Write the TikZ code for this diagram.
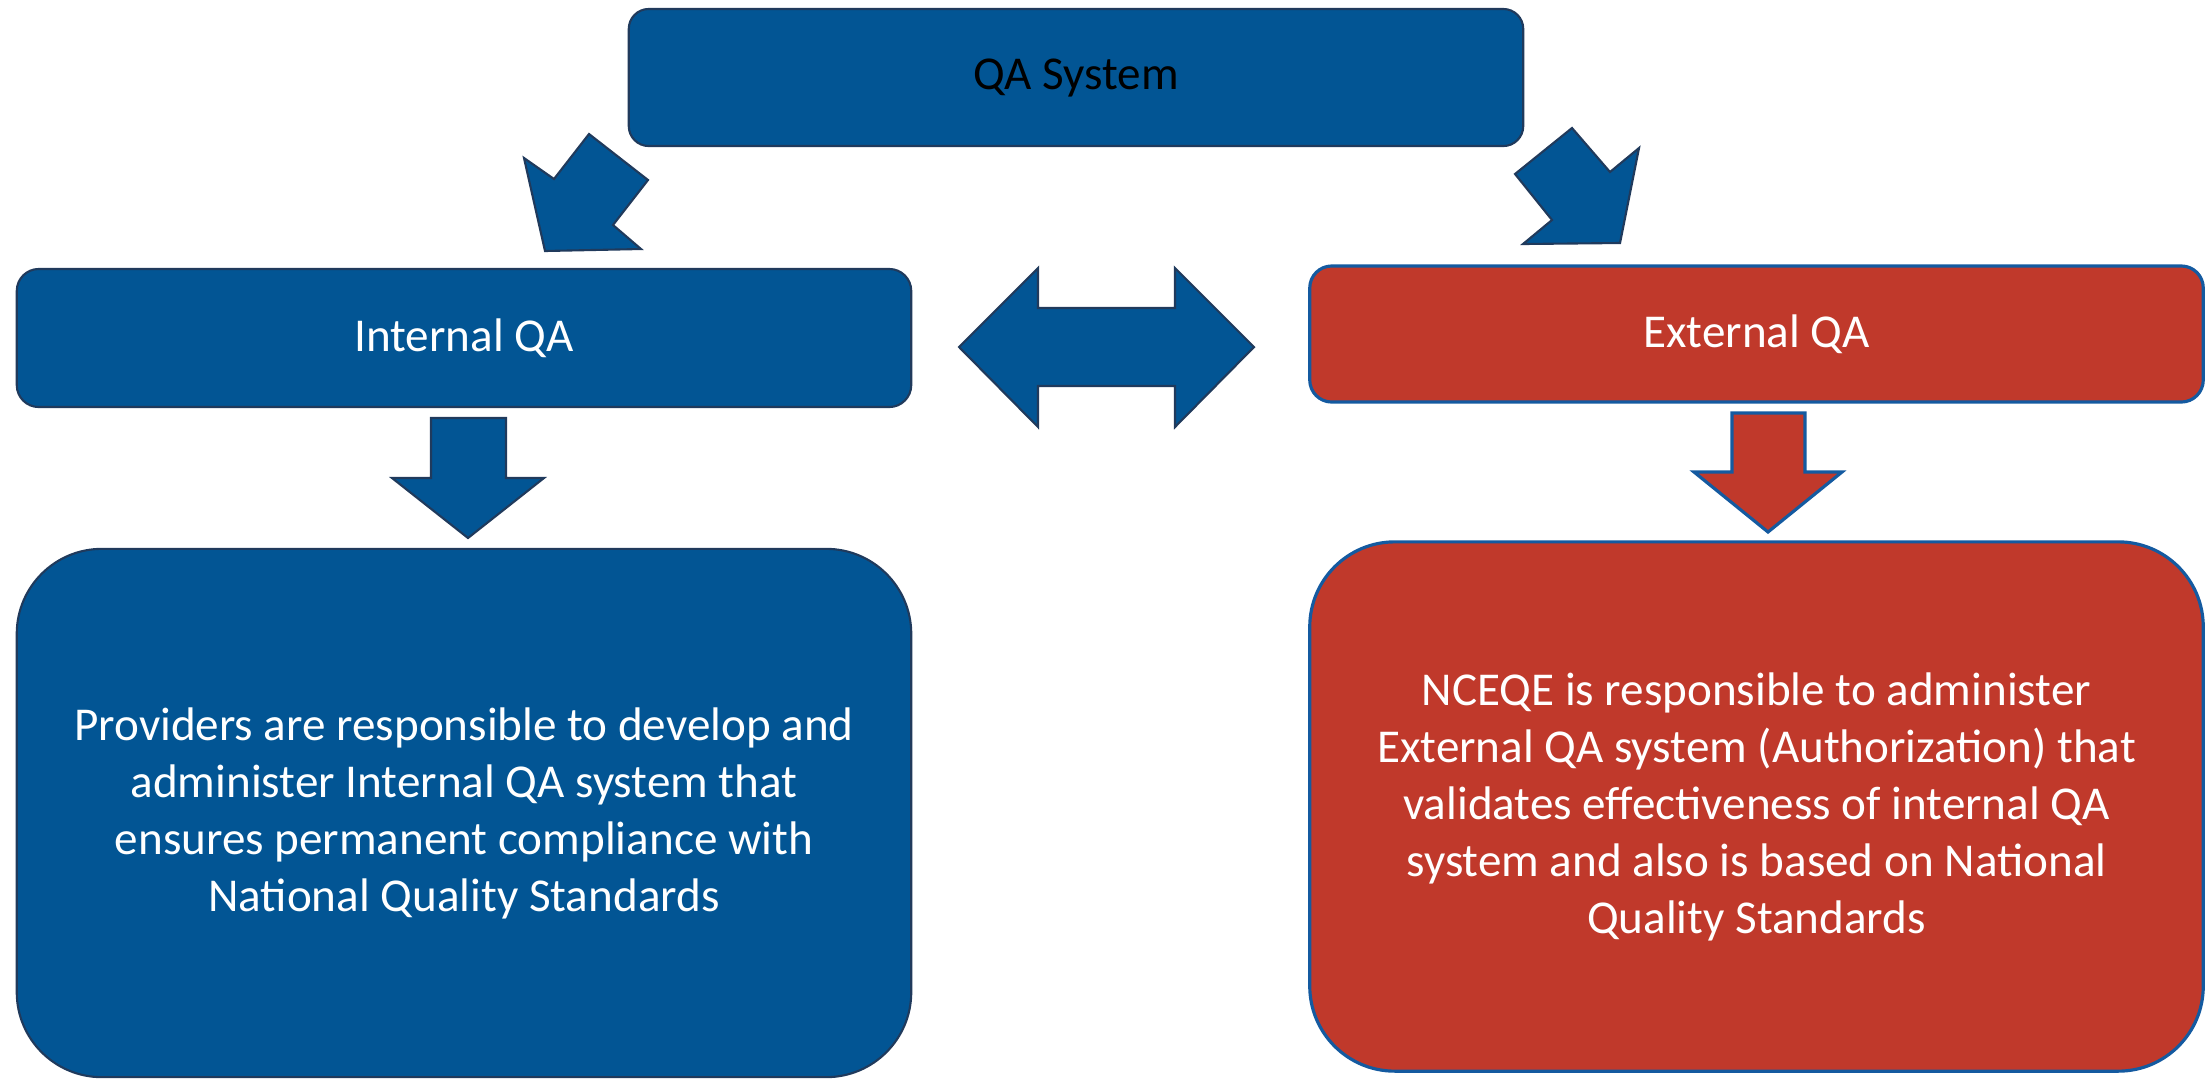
\documentclass[tikz,border=0pt]{standalone}
\usepackage{fontspec}
\setmainfont{Carlito}
\definecolor{qablue}{RGB}{2,85,148}
\definecolor{qared}{RGB}{192,57,43}
\definecolor{qanavy}{RGB}{32,58,92}
\definecolor{qaline}{RGB}{20,90,160}
\tikzset{
  qabox/.style={rectangle, inner sep=0pt, align=center, text=white, font=\fontsize{13.4}{16.2}\selectfont},
  bluebox/.style={qabox, fill=qablue, draw=qanavy, line width=0.6pt},
  redbox/.style={qabox, fill=qared, draw=qaline, line width=0.9pt},
  bluearrow/.style={fill=qablue, draw=qanavy, line width=0.6pt, line join=miter},
  redarrow/.style={fill=qared, draw=qaline, line width=0.9pt, line join=miter}
}
\begin{document}
\begin{tikzpicture}[x=0.01cm,y=-0.01cm]
\useasboundingbox (0,0) rectangle (2209,1078);
% boxes
\node[bluebox, text=black, rounded corners=0.2cm, minimum width=8.94cm, minimum height=1.37cm] (sys) at (1076,77.5) {QA System};
\node[bluebox, rounded corners=0.22cm, minimum width=8.94cm, minimum height=1.38cm] (intqa) at (464,338) {Internal QA};
\node[redbox, rounded corners=0.22cm, minimum width=8.93cm, minimum height=1.36cm] (extqa) at (1756.5,334) {External QA};
\node[bluebox, rounded corners=0.85cm, minimum width=8.94cm, minimum height=5.28cm] (intdesc) at (464,813)
  {Providers are responsible to develop and\\administer Internal QA system that\\ensures permanent compliance with\\National Quality Standards};
\node[redbox, rounded corners=0.85cm, minimum width=8.93cm, minimum height=5.29cm] (extdesc) at (1756.5,806.5)
  {NCEQE is responsible to administer\\External QA system (Authorization) that\\validates effectiveness of internal QA\\system and also is based on National\\Quality Standards};
% block arrows
\draw[bluearrow] (589,134) -- (648,180) -- (613,225) -- (641,249) -- (545,251) -- (524,158) -- (554,179) -- cycle;
\draw[bluearrow] (1572,128) -- (1610,172) -- (1639,148) -- (1620,243) -- (1523,244) -- (1552,220) -- (1515,174) -- cycle;
\draw[bluearrow] (959,347) -- (1038,268) -- (1038,308) -- (1175,308) -- (1175,268) -- (1254,347)
  -- (1175,427) -- (1175,386) -- (1038,386) -- (1038,427) -- cycle;
\draw[bluearrow] (431,418) -- (506,418) -- (506,478) -- (544,478) -- (468,538) -- (392,478) -- (431,478) -- cycle;
\draw[redarrow] (1732,413) -- (1805,413) -- (1805,472) -- (1842,472) -- (1768,532) -- (1694,472) -- (1732,472) -- cycle;
\end{tikzpicture}
\end{document}
